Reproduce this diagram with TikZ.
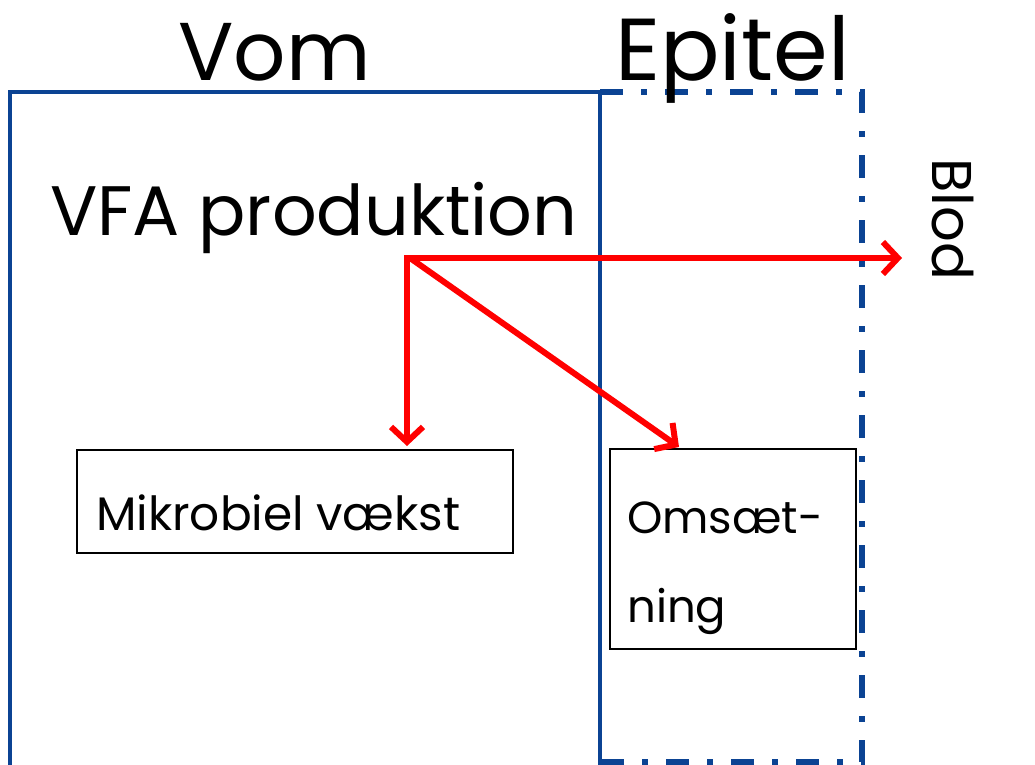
\documentclass[tikz,border=0pt]{standalone}
\usepackage{fontspec}
\setmainfont{Poppins}
\usetikzlibrary{arrows.meta}
\definecolor{frameblue}{HTML}{0B4393}
\begin{document}
\begin{tikzpicture}[x=1pt,y=-1pt,
  zone/.style={draw=frameblue,line width=4pt},
  zonedash/.style={draw=frameblue,line width=6pt,dash pattern=on 23pt off 18pt on 6pt off 18pt},
  box/.style={draw=black,line width=1.8pt,fill=white},
  flow/.style={draw=red,line width=6pt,-{Straight Barb[length=15pt,width=32pt]}},
  lbl/.style={inner sep=0pt,anchor=base west}]
\useasboundingbox (0,0) rectangle (1035,764);
% rumen and epithelium regions
\draw[zone] (10,800) -- (10,92) -- (600,92) -- (600,800);
\draw[zonedash] (600,92) -- (862,92) -- (862,762) -- (600,762);
% headings
\node[lbl,font=\fontsize{82}{90}\selectfont] (vom) at (178,80) {Vom};
\node[lbl,font=\fontsize{88}{96}\selectfont] (epi) at (615,80) {Epitel};
\node[lbl,font=\fontsize{70}{76}\selectfont] (vfa) at (50,235) {VFA produktion};
\node[inner sep=0pt,rotate=-90,anchor=south west,font=\fontsize{56}{60}\selectfont] (blod) at (932,158) {Blod};
% boxes
\node[box,minimum width=436pt,minimum height=103pt,anchor=north west] (mik) at (76,449) {};
\node[lbl,font=\fontsize{47}{52}\selectfont] at (96,530) {Mikrobiel vækst};
\node[box,minimum width=246pt,minimum height=200pt,anchor=north west] (oms) at (609,448) {};
\node[lbl,font=\fontsize{45}{50}\selectfont] at (627,533) {Omsæt-};
\node[lbl,font=\fontsize{45}{50}\selectfont] at (627,622) {ning};
% flows
\coordinate (src) at (410,258);
\coordinate (blodend) at (902,258);
\draw[flow] (src) -- (blodend);
\draw[flow] (src) -- (407,258) -- (407,446);
\draw[flow] (src) -- (679,447);
\end{tikzpicture}
\end{document}
